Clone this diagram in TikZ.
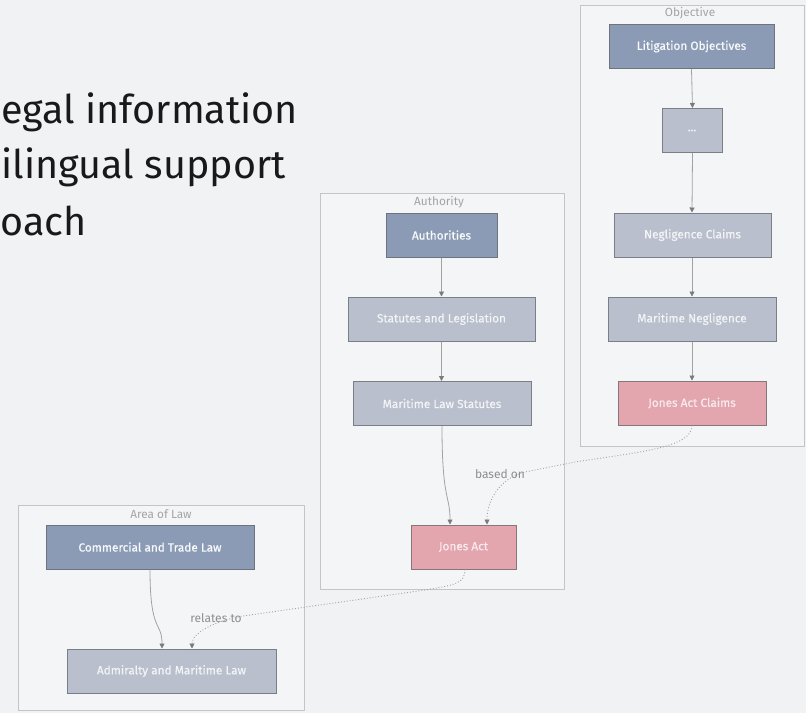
\documentclass[tikz,border=0pt]{standalone}
\usepackage{fontspec}
\setmainfont{Fira Sans}
\newfontfamily\boxfont{Fira Sans}[FakeBold=0.5]
\usetikzlibrary{arrows.meta,calc}
\definecolor{bg}{HTML}{F1F2F4}
\definecolor{clfill}{HTML}{F4F5F7}
\definecolor{clline}{HTML}{C4C5C8}
\definecolor{dkfill}{HTML}{8B9BB5}
\definecolor{dkline}{HTML}{6E737D}
\definecolor{ltfill}{HTML}{B9BFCC}
\definecolor{ltline}{HTML}{7A7E87}
\definecolor{pkfill}{HTML}{E3A6AF}
\definecolor{pkline}{HTML}{85767A}
\definecolor{edgec}{HTML}{A2A2A2}
\definecolor{tipc}{HTML}{7A7A7A}
\definecolor{labc}{HTML}{8E8E8E}
\tikzset{
  boxbase/.style={rectangle, draw, line width=1pt, inner sep=0pt, minimum height=44pt,
    font=\boxfont\fontsize{11.8}{13}\selectfont},
  dk/.style={boxbase, fill=dkfill, draw=dkline, text=white!94!dkfill},
  lt/.style={boxbase, fill=ltfill, draw=ltline, text=white!82!ltfill},
  pk/.style={boxbase, fill=pkfill, draw=pkline, text=white!78!pkfill},
  cl/.style={rectangle, draw=clline, fill=clfill, line width=1pt, inner sep=0pt},
  cltitle/.style={font=\fontsize{11.8}{13}\selectfont, text=labc!80!white},
  elabel/.style={font=\fontsize{12}{14}\selectfont, text=labc},
  solidedge/.style={draw=edgec, line width=0.8pt, -{Triangle[length=5pt,width=5pt,fill=tipc,color=tipc]}},
  dotedge/.style={draw=edgec, line width=0.9pt, dotted, -{Triangle[length=5pt,width=5pt,fill=tipc,color=tipc]}},
  bigtext/.style={font=\fontsize{39.5}{46}\selectfont, text=black!90, inner sep=0pt}
}
\begin{document}
\begin{tikzpicture}[x=1pt,y=-1pt]
\fill[bg] (0,0) rectangle (806,713);
\useasboundingbox (0,0) rectangle (806,713);

% big text at the left edge
\node[bigtext, anchor=base west] (t1) at (1,123) {egal information};
\node[bigtext, anchor=base west] (t2) at (1.5,178) {ilingual support};
\node[bigtext, anchor=base west] (t3) at (0.5,235) {oach};

% clusters
\node[cl, minimum width=224pt, minimum height=441pt] (cobj) at (692,225.5) {};
\node[cltitle] (tobj) at (690,13) {Objective};
\node[cl, minimum width=244pt, minimum height=396pt] (caut) at (442,391) {};
\node[cltitle] (taut) at (439,202) {Authority};
\node[cl, minimum width=286pt, minimum height=205pt] (carea) at (161,607.5) {};
\node[cltitle] (tarea) at (161,514) {Area of Law};

% nodes
\node[dk, minimum width=165pt] (lo) at (691.5,46.5) {Litigation Objectives};
\node[lt, minimum width=60pt] (dots) at (692,130.5) {...};
\node[lt, minimum width=157pt] (nc) at (692.5,235) {Negligence Claims};
\node[lt, minimum width=168pt] (mn) at (692,319) {Maritime Negligence};
\node[pk, minimum width=148pt] (jac) at (692,403) {Jones Act Claims};

\node[dk, minimum width=111pt] (au) at (441.5,235) {Authorities};
\node[lt, minimum width=187pt] (sl) at (441.5,319) {Statutes and Legislation};
\node[lt, minimum width=178pt] (mls) at (442,403.5) {Maritime Law Statutes};
\node[pk, minimum width=105pt] (ja) at (463.5,547) {Jones Act};

\node[dk, minimum width=208pt] (ct) at (150,547) {Commercial and Trade Law};
\node[lt, minimum width=209pt] (ad) at (171.5,671) {Admiralty and Maritime Law};

% endpoints on node tops
\coordinate (ja1) at ([xshift=-13.5pt]ja.north);
\coordinate (ja2) at ([xshift=23.5pt]ja.north);
\coordinate (ad1) at ([xshift=-9.5pt]ad.north);
\coordinate (ad2) at ([xshift=20.5pt]ad.north);

% solid edges
\draw[solidedge] (lo.south) -- ([xshift=0.5pt]dots.north);
\draw[solidedge] ([xshift=0.5pt]dots.south) -- ([xshift=-0.5pt]nc.north);
\draw[solidedge] ([xshift=-0.5pt]nc.south) -- (mn.north);
\draw[solidedge] (mn.south) -- (jac.north);
\draw[solidedge] (au.south) -- (sl.north);
\draw[solidedge] (sl.south) -- ([xshift=-0.5pt]mls.north);
\draw[solidedge] (mls.south) .. controls +(0,75) and +(0,-30) .. (ja1);
\draw[solidedge] (ct.south) .. controls +(0,65) and +(0,-28) .. (ad1);

% dotted edges with labels
\node[elabel] (lbased) at (500,474) {based on};
\draw[dotedge] (jac.south) .. controls +(0,22) and (640,452) .. (575,462)
   -- (525,472) .. controls (500,478) and (487,500) .. (ja2);
\node[elabel] (lrel) at (216,618) {relates to};
\draw[dotedge] ([xshift=1.5pt]ja.south) .. controls +(0,14) and (455,585) .. (425,590)
   -- (243,616) .. controls (218,620) and (192,632) .. (ad2);
\end{tikzpicture}
\end{document}
